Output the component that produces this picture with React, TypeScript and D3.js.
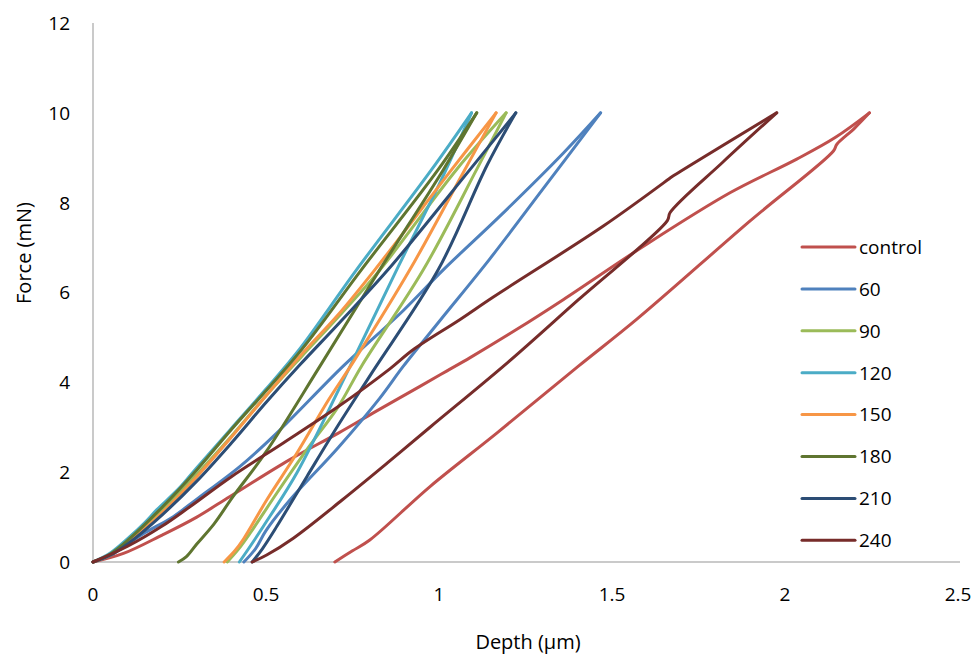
import { useRef, useEffect } from "react";
import * as d3 from "d3";

// depth (µm), force (mN) - loading then unloading
const controlCurve: [number, number][] = [
	[0, 0], [0.088, 0.19], [0.2, 0.6], [0.3, 1.0], [0.396, 1.46], [0.569, 2.28], [0.709, 2.87],
	[0.81, 3.32], [0.945, 3.91], [1.022, 4.25], [1.09, 4.55], [1.225, 5.18], [1.359, 5.84],
	[1.591, 7.03], [1.841, 8.22], [2.034, 8.97], [2.145, 9.45], [2.244, 10],
	[2.2, 9.65], [2.15, 9.3], [2.14, 9.15], [1.9, 7.6], [1.571, 5.4], [1.403, 4.36],
	[1.167, 2.87], [0.974, 1.68], [0.8, 0.49], [0.75, 0.25], [0.699, 0],
];
const curve60: [number, number][] = [
	[0, 0], [0.05, 0.15], [0.1, 0.4], [0.15, 0.65], [0.232, 1.01], [0.3, 1.4], [0.425, 2.13],
	[0.531, 2.87], [0.723, 4.36], [0.897, 5.6], [1.013, 6.51], [1.176, 7.7], [1.359, 9.1], [1.467, 10],
	[1.3, 8.3], [1.147, 6.75], [1.0, 5.35], [0.897, 4.36], [0.829, 3.65], [0.709, 2.55], [0.569, 1.38],
	[0.5, 0.7], [0.47, 0.3], [0.436, 0],
];
const curve90: [number, number][] = [
	[0, 0], [0.05, 0.17], [0.1, 0.45], [0.2, 1.15], [0.3, 1.95], [0.4, 2.8], [0.5, 3.7], [0.6, 4.55],
	[0.72, 5.55], [0.83, 6.51], [1.051, 8.74], [1.194, 10],
	[1.109, 8.74], [0.955, 6.51], [0.776, 4.36], [0.709, 3.46], [0.618, 2.5], [0.531, 1.53],
	[0.454, 0.64], [0.42, 0.28], [0.388, 0],
];
const curve120: [number, number][] = [
	[0, 0], [0.05, 0.2], [0.1, 0.52], [0.15, 0.88], [0.184, 1.16], [0.25, 1.65], [0.3, 2.1],
	[0.396, 2.94], [0.5, 3.85], [0.598, 4.75], [0.762, 6.51], [0.979, 8.74], [1.094, 10],
	[1.0, 8.4], [0.878, 6.51], [0.733, 4.2], [0.589, 1.98], [0.492, 0.79], [0.45, 0.3], [0.423, 0],
];
const curve150: [number, number][] = [
	[0, 0], [0.05, 0.15], [0.1, 0.42], [0.2, 1.1], [0.3, 1.9], [0.4, 2.78], [0.5, 3.7], [0.6, 4.6],
	[0.709, 5.51], [0.815, 6.51], [1.037, 8.74], [1.165, 10],
	[1.075, 8.74], [0.916, 6.51], [0.752, 4.45], [0.68, 3.6], [0.589, 2.42], [0.502, 1.38],
	[0.434, 0.5], [0.41, 0.25], [0.379, 0],
];
const curve180: [number, number][] = [
	[0, 0], [0.05, 0.18], [0.1, 0.48], [0.2, 1.22], [0.3, 2.05], [0.4, 2.95], [0.6, 4.7],
	[0.776, 6.51], [0.998, 8.74], [1.109, 10],
	[1.013, 8.74], [0.829, 6.51], [0.656, 4.36], [0.5, 2.45], [0.405, 1.46], [0.35, 0.85],
	[0.3, 0.4], [0.27, 0.12], [0.247, 0],
];
const curve210: [number, number][] = [
	[0, 0], [0.05, 0.15], [0.1, 0.4], [0.2, 1.05], [0.3, 1.8], [0.4, 2.65], [0.5, 3.55], [0.598, 4.39],
	[0.709, 5.3], [0.853, 6.51], [1.09, 8.74], [1.222, 10],
	[1.14, 8.85], [0.998, 6.51], [0.805, 4.2], [0.709, 3.05], [0.618, 1.9], [0.531, 0.79],
	[0.49, 0.3], [0.46, 0],
];
const curve240: [number, number][] = [
	[0, 0], [0.1, 0.35], [0.2, 0.8], [0.28, 1.23], [0.4, 1.9], [0.55, 2.65], [0.709, 3.46],
	[0.858, 4.3], [0.926, 4.73], [1.061, 5.4], [1.157, 5.9], [1.475, 7.48], [1.663, 8.52],
	[1.67, 8.56], [1.976, 10],
	[1.82, 8.9], [1.668, 7.78], [1.66, 7.6], [1.403, 5.84], [1.2, 4.45], [0.974, 3.0], [0.85, 2.2],
	[0.72, 1.38], [0.579, 0.53], [0.502, 0.156], [0.46, 0],
];

const seriesNames = ["control", "60", "90", "120", "150", "180", "210", "240"];
const seriesCurves = [controlCurve, curve60, curve90, curve120, curve150, curve180, curve210, curve240];
const xTicks = [0, 0.5, 1, 1.5, 2, 2.5];
const yTicks = [0, 2, 4, 6, 8, 10, 12];

const colors = ["#C0504D", "#4F81BD", "#9BBB59", "#4BACC6", "#F79646", "#5F7530", "#2C4D75", "#772C2A"];

export default function App() {
	const ref = useRef<SVGSVGElement>(null);

	useEffect(() => {
		const font = "'Open Sans', 'Noto Sans', sans-serif";

		const svg = d3.select(ref.current);
		svg.selectAll("*").remove();

		const x = d3.scaleLinear().domain([0, 2.5]).range([93, 958]);
		const y = d3.scaleLinear().domain([0, 12]).range([562, 23]);

		// ---- Axes ----
		svg.append("line")
			.attr("x1", x(0)).attr("x2", x(0))
			.attr("y1", y(12)).attr("y2", y(0))
			.attr("stroke", "#B8B8B8").attr("stroke-width", 1.5);
		svg.append("line")
			.attr("x1", x(0)).attr("x2", x(2.5) + 2)
			.attr("y1", y(0)).attr("y2", y(0))
			.attr("stroke", "#B8B8B8").attr("stroke-width", 1.5);

		svg.selectAll(".ytick")
			.data(yTicks)
			.enter()
			.append("text")
			.attr("x", 70)
			.attr("y", (d) => y(d))
			.attr("dy", "0.36em")
			.attr("text-anchor", "end")
			.style("font-family", font)
			.style("font-size", "19px")
			.style("fill", "#000")
			.text((d) => d);

		svg.selectAll(".xtick")
			.data(xTicks)
			.enter()
			.append("text")
			.attr("x", (d) => x(d))
			.attr("y", 601)
			.attr("text-anchor", "middle")
			.style("font-family", font)
			.style("font-size", "19px")
			.style("fill", "#000")
			.text((d) => d);

		// ---- Axis labels ----
		svg.append("text")
			.attr("x", 528)
			.attr("y", 649)
			.attr("text-anchor", "middle")
			.style("font-family", font)
			.style("font-size", "20px")
			.text("Depth (µm)");

		svg.append("text")
			.attr("transform", "rotate(-90)")
			.attr("x", -253)
			.attr("y", 31)
			.attr("text-anchor", "middle")
			.style("font-family", font)
			.style("font-size", "20px")
			.text("Force (mN)");

		// ---- Curves: loading and unloading drawn as separate smooth pieces ----
		const line = d3
			.line<[number, number]>()
			.x((d) => x(d[0]))
			.y((d) => y(d[1]))
			.curve(d3.curveCatmullRom.alpha(0.5));

		seriesCurves.forEach((c, i) => {
			const peak = d3.maxIndex(c, (d) => d[1]);
			const pieces = [c.slice(0, peak + 1), c.slice(peak)];
			const g = svg.append("g");
			pieces.forEach((p) => {
				g.append("path")
					.attr("d", line(p))
					.attr("fill", "none")
					.attr("stroke", colors[i])
					.attr("stroke-width", 3)
					.attr("stroke-linejoin", "round")
					.attr("stroke-linecap", "round");
			});
		});

		// ---- Legend ----
		const legend = svg.append("g");
		seriesNames.forEach((name, i) => {
			const ly = 247 + i * 41.9;
			legend.append("line")
				.attr("x1", 802).attr("x2", 855)
				.attr("y1", ly).attr("y2", ly)
				.attr("stroke", colors[i])
				.attr("stroke-width", 3)
				.attr("stroke-linecap", "round");
			legend.append("text")
				.attr("x", 859)
				.attr("y", ly)
				.attr("dy", "0.36em")
				.style("font-family", font)
				.style("font-size", "19px")
				.text(name);
		});
	}, []);

	return (
		<svg
			ref={ref}
			width={976}
			height={655}
			style={{ position: "absolute", left: 0, top: 0, background: "#fff" }}
		/>
	);
}
